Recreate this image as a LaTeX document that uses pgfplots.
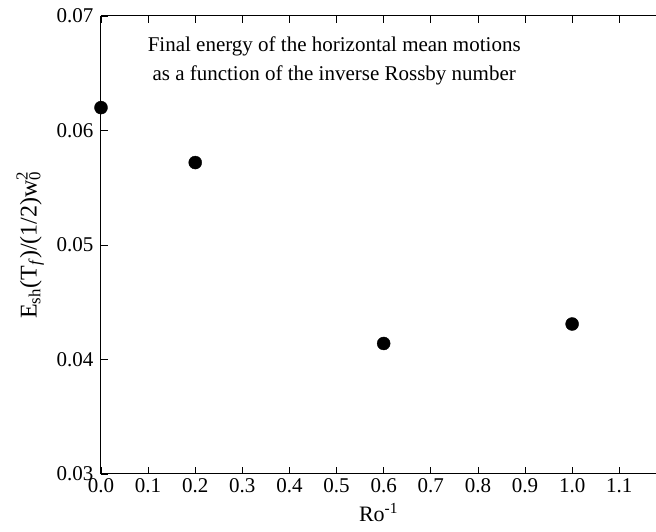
\documentclass[border=0pt]{standalone}
\usepackage{pgfplots}
\pgfplotsset{compat=1.18}
\usepackage{fontspec}
\setmainfont{Liberation Serif}

\begin{document}
\begin{tikzpicture}
  % fixed canvas around the axis box
  \path[use as bounding box] (-101pt,-58pt) rectangle (555pt,474pt);
  \begin{axis}[
    at={(0,0)}, anchor=south west,
    scale only axis,
    width=555pt, height=458pt,
    xmin=0, xmax=1.178,
    ymin=0.03, ymax=0.07,
    axis x line*=box,
    axis y line*=left,
    tick align=inside,
    major tick length=7pt,
    xtick={0,0.1,...,1.1},
    ytick={0.03,0.04,0.05,0.06,0.07},
    scaled y ticks=false,
    scaled x ticks=false,
    /pgf/number format/assume math mode=true,
    xticklabel style={/pgf/number format/fixed, /pgf/number format/fixed zerofill, /pgf/number format/precision=1, yshift=-1pt},
    yticklabel style={/pgf/number format/fixed, /pgf/number format/fixed zerofill, /pgf/number format/precision=2, xshift=-4pt},
    ticklabel style={font=\fontsize{21}{24}\selectfont},
    xlabel={Ro\textsuperscript{-1}},
    ylabel={E\textsubscript{sh}(T\textsubscript{\textit{f}})/(1/2)w\rlap{\textsuperscript{2}}\textsubscript{0}},
    xlabel style={font=\fontsize{22}{24}\selectfont, yshift=-4pt},
    ylabel style={font=\fontsize{24}{26}\selectfont, yshift=6pt},
    axis line style={line width=1pt},
    every tick/.style={line width=0.8pt, black},
    clip=false,
  ]
    \addplot[only marks, mark=*, mark size=6.5pt, black] coordinates {
      (0.0, 0.0620)
      (0.2, 0.0572)
      (0.6, 0.0414)
      (1.0, 0.0431)
    };
    \node[align=center, font=\fontsize{21}{29}\selectfont]
      at (axis cs:0.495,0.0661)
      {Final energy of the horizontal mean motions\\as a function of the inverse Rossby number};
  \end{axis}
\end{tikzpicture}
\end{document}
